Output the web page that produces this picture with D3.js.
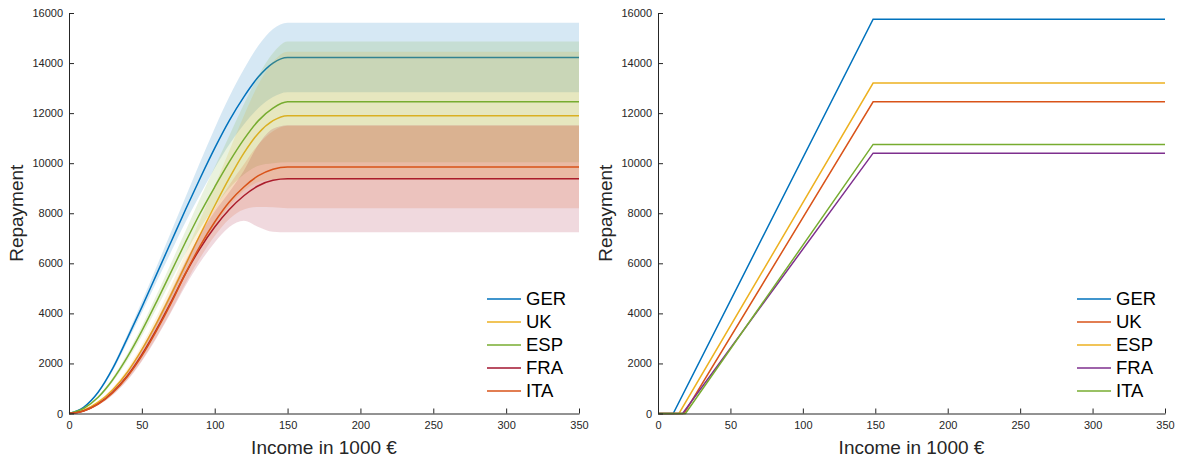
<!DOCTYPE html>
<html>
<head>
<meta charset="utf-8">
<script src="https://cdn.jsdelivr.net/npm/d3@7"></script>
<style>
  html, body { margin: 0; padding: 0; background: #fff; }
  svg text { font-family: "Liberation Sans", Arial, Helvetica, sans-serif; }
</style>
</head>
<body>
<svg id="chart" width="1182" height="461"></svg>
<script>
// Income grid (1000 €) shared by the simulated repayment curves
const income = [0, 10, 20, 30, 40, 50, 60, 70, 80, 90, 100, 110, 120, 130, 140, 150, 350];

// Left panel: mean repayment and half-width of the uncertainty band per country
const simCountries = ["GER", "UK", "ESP", "FRA", "ITA"];
const simColors = ["#0072BD", "#EDB120", "#77AC30", "#A2142F", "#D95319"];

const gerMean   = [0, 250, 850, 1800, 3000, 4250, 5550, 6850, 8150, 9400, 10600, 11700, 12650, 13450, 14000, 14220, 14220];
const gerSpread = [0, 20, 50, 100, 150, 220, 300, 400, 500, 650, 800, 950, 1100, 1250, 1360, 1390, 1390];

const ukMean    = [0, 130, 450, 950, 1650, 2550, 3600, 4750, 5950, 7150, 8300, 9400, 10400, 11200, 11700, 11900, 11900];
const ukSpread  = [0, 15, 40, 80, 130, 190, 260, 350, 460, 600, 800, 1100, 1500, 1950, 2350, 2550, 2550];

const espMean   = [0, 200, 650, 1350, 2250, 3300, 4450, 5650, 6850, 8000, 9050, 10050, 10950, 11700, 12200, 12450, 12450];
const espSpread = [0, 20, 50, 90, 140, 200, 270, 350, 450, 600, 800, 1050, 1400, 1800, 2200, 2410, 2410];

const fraMean   = [0, 100, 380, 850, 1500, 2350, 3350, 4450, 5600, 6600, 7450, 8150, 8700, 9100, 9320, 9380, 9380];
const fraSpread = [0, 15, 50, 110, 180, 260, 340, 420, 500, 560, 620, 700, 1000, 1650, 2060, 2140, 2140];

const itaMean   = [0, 100, 370, 830, 1470, 2300, 3300, 4400, 5600, 6700, 7650, 8450, 9050, 9500, 9760, 9850, 9850];
const itaSpread = [0, 15, 40, 80, 120, 180, 250, 320, 400, 480, 560, 680, 900, 1250, 1520, 1650, 1650];

const simMeans = [gerMean, ukMean, espMean, fraMean, itaMean];
const simSpreads = [gerSpread, ukSpread, espSpread, fraSpread, itaSpread];

// Right panel: linear repayment schedules (threshold, cap, income where the cap binds)
const planCountries = ["GER", "UK", "ESP", "FRA", "ITA"];
const planColors = ["#0072BD", "#D95319", "#EDB120", "#7E2F8E", "#77AC30"];
const planThreshold = [10.5, 18, 14.5, 17, 19];
const planCap = [15750, 12450, 13200, 10400, 10750];
const planCapIncome = 148.5;

// Axis ticks
const xTicks = [0, 50, 100, 150, 200, 250, 300, 350];
const yTicks = [0, 2000, 4000, 6000, 8000, 10000, 12000, 14000, 16000];

const svg = d3.select("#chart");
const axisColor = "#262626";

function drawAxes(g, x, y, xLabel, yLabel) {
  const [x0, x1] = x.range();
  const [y0, y1] = y.range();

  const xAxis = g.append("g")
    .attr("transform", `translate(0,${y0})`)
    .call(d3.axisBottom(x).tickValues(xTicks).tickSize(-5).tickPadding(8).tickSizeOuter(0));
  const yAxis = g.append("g")
    .attr("transform", `translate(${x0},0)`)
    .call(d3.axisLeft(y).tickValues(yTicks).tickSize(-5).tickPadding(6).tickFormat(d3.format("d")).tickSizeOuter(0));

  [xAxis, yAxis].forEach(a => {
    a.select(".domain").attr("stroke", axisColor).attr("stroke-width", 1);
    a.selectAll(".tick line").attr("stroke", axisColor).attr("stroke-width", 1);
    a.selectAll(".tick text").attr("fill", axisColor).style("font-size", "11px");
  });

  g.append("text")
    .attr("x", (x0 + x1) / 2)
    .attr("y", y0 + 40)
    .attr("text-anchor", "middle")
    .attr("fill", axisColor)
    .style("font-size", "19px")
    .text(xLabel);

  g.append("text")
    .attr("transform", `translate(${x0 - 46},${(y0 + y1) / 2}) rotate(-90)`)
    .attr("text-anchor", "middle")
    .attr("fill", axisColor)
    .style("font-size", "19px")
    .text(yLabel);
}

function drawLegend(g, x0, y0, names, colors) {
  names.forEach((name, i) => {
    const yy = y0 + i * 23;
    g.append("line")
      .attr("x1", x0).attr("x2", x0 + 34)
      .attr("y1", yy).attr("y2", yy)
      .attr("stroke", colors[i]).attr("stroke-width", 1.5);
    g.append("text")
      .attr("x", x0 + 39).attr("y", yy)
      .attr("dy", "0.35em")
      .attr("fill", "#000")
      .style("font-size", "18.5px")
      .text(name);
  });
}

// ---- Left panel: simulated repayments with uncertainty bands ----
{
  const x = d3.scaleLinear().domain([0, 350]).range([69, 579]);
  const y = d3.scaleLinear().domain([0, 16000]).range([413.5, 13]);
  const g = svg.append("g");

  const area = d3.area()
    .x(d => x(d.inc))
    .y0(d => y(d.mean - d.spread))
    .y1(d => y(d.mean + d.spread))
    .curve(d3.curveMonotoneX);
  const line = d3.line()
    .x(d => x(d.inc))
    .y(d => y(d.mean))
    .curve(d3.curveMonotoneX);

  simCountries.forEach((c, i) => {
    const pts = income.map((inc, k) => ({ inc, mean: simMeans[i][k], spread: simSpreads[i][k] }));
    g.append("path")
      .datum(pts)
      .attr("d", area)
      .attr("fill", simColors[i])
      .attr("fill-opacity", 0.16)
      .attr("stroke", "none");
    g.append("path")
      .datum(pts)
      .attr("d", line)
      .attr("fill", "none")
      .attr("stroke", simColors[i])
      .attr("stroke-width", 1.5);
  });

  drawAxes(g, x, y, "Income in 1000 €", "Repayment");
  drawLegend(g, 487, 299, simCountries, simColors);
}

// ---- Right panel: statutory repayment schedules ----
{
  const x = d3.scaleLinear().domain([0, 350]).range([658, 1165]);
  const y = d3.scaleLinear().domain([0, 16000]).range([413.5, 13]);
  const g = svg.append("g");

  const line = d3.line().x(d => x(d[0])).y(d => y(d[1]));

  planCountries.forEach((c, i) => {
    const pts = [[0, 0], [planThreshold[i], 0], [planCapIncome, planCap[i]], [350, planCap[i]]];
    g.append("path")
      .datum(pts)
      .attr("d", line)
      .attr("fill", "none")
      .attr("stroke", planColors[i])
      .attr("stroke-width", 1.5);
  });

  drawAxes(g, x, y, "Income in 1000 €", "Repayment");
  drawLegend(g, 1077, 299, planCountries, planColors);
}
</script>
</body>
</html>
